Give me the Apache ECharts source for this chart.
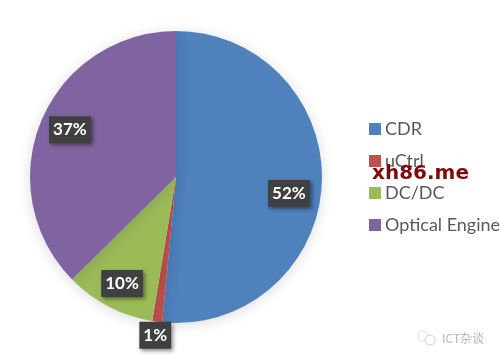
<!DOCTYPE html>
<html>
<head>
<meta charset="utf-8">
<script src="https://cdn.jsdelivr.net/npm/echarts@6/dist/echarts.min.js"></script>
<style>
html, body { margin: 0; padding: 0; background: #fff; }
#main { width: 500px; height: 360px; }
</style>
</head>
<body>
<div id="main"></div>
<script>
const categories = ['CDR', 'uCtrl', 'DC/DC', 'Optical Engine'];
const shares = [51.5, 1.1, 10, 37.4];
const colors = ['#4f81bd', '#c0504d', '#9bbb59', '#8064a2'];
// label nudges away from the default inside spot
const labelOffsets = [[37, 13], [-11, 83], [-19, 39], [-36, -18]];

var chart = echarts.init(document.getElementById('main'));
var option = {
    animation: false,
    backgroundColor: '#fff',
    color: colors,
    legend: {
        orient: 'vertical',
        left: 364,
        top: 115,
        itemWidth: 12,
        itemHeight: 12,
        itemGap: 14,
        icon: 'rect',
        textStyle: {
            color: '#595959',
            fontFamily: 'Lato',
            fontSize: 18,
            padding: [0, 0, 0, -1],
            lineHeight: 18
        },
        data: categories
    },
    series: [
        {
            type: 'pie',
            center: [176, 177],
            radius: [0, 146],
            startAngle: 90,
            clockwise: true,
            silent: true,
            itemStyle: {
                shadowColor: 'rgba(0,0,0,0.14)',
                shadowBlur: 14,
                shadowOffsetX: 0,
                shadowOffsetY: 2
            },
            label: {
                show: true,
                position: 'inside',
                formatter: function (p) {
                    return Math.round(p.value) + '%';
                },
                color: '#fff',
                fontFamily: 'Lato',
                fontWeight: 'bold',
                fontSize: 17,
                lineHeight: 17,
                backgroundColor: '#404040',
                padding: [5, 4, 5, 4],
                shadowColor: 'rgba(0,0,0,0.45)',
                shadowBlur: 4,
                shadowOffsetX: 2,
                shadowOffsetY: 2
            },
            labelLine: { show: false },
            labelLayout: function (p) {
                return { dx: labelOffsets[p.dataIndex][0], dy: labelOffsets[p.dataIndex][1] };
            },
            data: categories.map(function (name, i) {
                return { name: name, value: shares[i] };
            })
        }
    ],
    graphic: [
        {
            type: 'text',
            left: 372,
            top: 164,
            z: 100,
            style: {
                text: 'xh86.me',
                fill: '#7d0a0c',
                font: 'bold 20px "DejaVu Sans"'
            }
        },
        {
            type: 'text',
            left: 442,
            top: 332,
            z: 100,
            style: {
                text: 'ICT杂谈',
                fill: '#b5b5b5',
                font: '12px "Noto Sans CJK SC"'
            }
        },
        {
            type: 'circle',
            shape: { cx: 423, cy: 336, r: 5 },
            style: { fill: 'none', stroke: '#dcdcdc', lineWidth: 1 }
        },
        {
            type: 'circle',
            shape: { cx: 430, cy: 340, r: 5 },
            style: { fill: '#fff', stroke: '#cfcfcf', lineWidth: 1 }
        }
    ]
};
chart.setOption(option, true);
</script>
</body>
</html>
